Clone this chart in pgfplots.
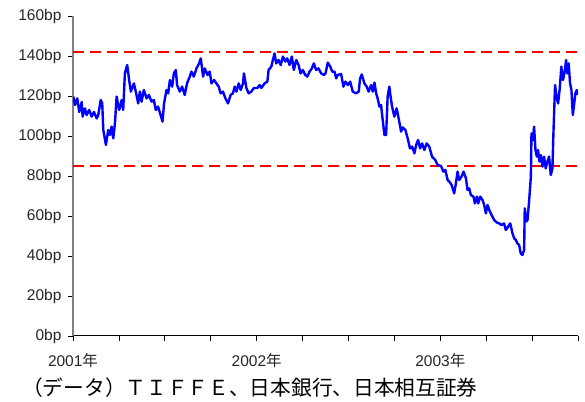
\documentclass[border=0pt]{standalone}
\usepackage{pgfplots}
\pgfplotsset{compat=1.18}
\usepackage{fontspec}
\setmainfont{Liberation Sans}
\newfontfamily\cjk{Noto Sans CJK JP}
\pgfplotstableread{
m v
0.02 119.7
0.13 115.5
0.28 118.8
0.41 112.0
0.57 117.0
0.63 109.7
0.78 113.8
0.89 110.5
1.06 113.0
1.22 109.7
1.37 112.0
1.55 108.8
1.65 110.5
1.81 118.0
1.91 116.3
1.98 103.0
2.15 95.5
2.30 103.0
2.41 100.5
2.52 104.7
2.63 98.8
2.74 106.3
2.85 119.7
3.02 113.0
3.18 118.0
3.28 113.0
3.39 131.3
3.54 135.5
3.67 128.0
3.78 122.2
3.98 126.3
4.15 120.5
4.26 116.3
4.37 122.2
4.48 117.2
4.63 123.0
4.81 118.8
4.96 120.5
5.13 117.2
5.28 118.0
5.41 113.0
5.56 114.7
5.72 110.5
5.85 107.2
5.95 116.3
6.11 123.0
6.22 121.3
6.33 128.0
6.48 124.7
6.59 131.3
6.72 133.0
6.80 125.5
6.98 122.2
7.13 124.7
7.30 120.5
7.45 126.3
7.63 129.7
7.74 132.2
7.89 129.7
8.07 133.8
8.24 136.3
8.35 138.8
8.50 129.7
8.61 133.8
8.79 130.5
8.93 132.2
9.05 126.3
9.22 128.0
9.37 126.3
9.52 124.7
9.65 121.3
9.80 122.2
9.96 118.8
10.13 116.3
10.30 120.5
10.45 121.3
10.57 124.7
10.68 122.2
10.83 126.3
10.96 123.0
11.11 126.3
11.17 131.3
11.33 124.0
11.48 121.3
11.65 122.2
11.82 124.0
12.05 124.0
12.20 125.5
12.31 124.0
12.52 126.3
12.70 127.2
12.78 133.0
12.96 134.7
13.06 138.0
13.17 141.3
13.28 136.3
13.43 138.0
13.57 135.5
13.72 139.7
13.87 137.2
14.00 138.8
14.15 135.5
14.30 139.7
14.43 133.0
14.59 138.0
14.74 135.5
14.87 131.3
15.02 133.0
15.18 130.5
15.31 129.7
15.46 132.2
15.61 133.8
15.74 136.3
15.89 133.0
16.04 133.8
16.22 131.3
16.39 130.5
16.50 131.3
16.65 136.7
16.81 134.7
16.94 132.2
17.09 132.2
17.20 128.8
17.30 130.5
17.52 131.0
17.67 124.7
17.80 127.2
17.96 125.5
18.11 127.2
18.28 122.2
18.50 121.3
18.67 122.2
18.76 128.8
18.87 130.8
19.04 126.3
19.19 124.7
19.32 122.2
19.48 125.5
19.59 122.2
19.70 126.7
19.81 121.3
19.91 118.8
20.02 114.7
20.13 115.5
20.20 110.5
20.35 100.5
20.46 100.5
20.56 119.7
20.67 124.7
20.74 120.5
20.85 114.7
21.00 109.7
21.15 113.8
21.28 108.8
21.44 102.2
21.54 104.3
21.72 103.0
21.87 98.8
22.02 93.8
22.16 94.7
22.31 91.3
22.42 95.5
22.55 98.0
22.68 93.8
22.81 96.3
22.96 93.0
23.11 96.3
23.28 94.7
23.46 89.7
23.67 88.0
23.83 85.5
24.05 85.0
24.20 82.2
24.33 83.0
24.48 78.0
24.59 77.2
24.74 75.5
24.91 71.3
25.02 76.3
25.13 82.2
25.24 78.0
25.39 79.7
25.52 82.2
25.68 78.8
25.78 73.0
25.89 73.8
26.00 70.5
26.17 69.7
26.26 66.3
26.39 69.7
26.48 66.3
26.61 69.7
26.76 68.0
26.87 65.5
26.98 61.3
27.09 65.5
27.20 63.0
27.35 60.5
27.52 58.0
27.70 56.7
27.85 56.3
28.00 55.5
28.17 56.3
28.28 53.0
28.44 54.7
28.57 56.3
28.72 51.3
28.83 48.8
28.94 48.0
29.04 46.3
29.15 45.5
29.26 41.3
29.37 40.5
29.48 43.0
29.52 63.8
29.61 57.2
29.70 58.0
29.81 68.0
29.92 79.7
29.96 101.3
30.05 98.0
30.13 104.7
30.22 93.0
30.31 89.7
30.39 93.0
30.48 87.2
30.57 90.5
30.68 84.7
30.78 89.7
30.89 83.8
31.00 87.2
31.11 89.7
31.22 80.5
31.33 83.8
31.39 100.5
31.50 125.5
31.61 118.8
31.70 116.3
31.81 124.0
31.91 134.7
32.02 128.0
32.13 132.2
32.22 138.0
32.30 131.3
32.39 136.3
32.48 126.3
32.57 123.0
32.66 110.5
32.74 115.5
32.83 121.3
32.92 123.0
32.94 120.5
}\spread
\begin{document}
\begin{tikzpicture}[x=1pt,y=1pt]
\begin{axis}[
  at={(73pt,65pt)}, anchor=south west,
  scale only axis, width=505pt, height=320pt,
  xmin=0, xmax=33, ymin=0, ymax=160,
  axis x line*=bottom, axis y line*=left,
  x axis line style={black, line width=1pt, -},
  y axis line style={gray, line width=1.3pt, -},
  xtick={0,3,...,33},
  xticklabels={2001{\cjk 年},,,,2002{\cjk 年},,,,2003{\cjk 年},,,},
  ytick={0,20,...,160},
  yticklabels={0bp,20bp,40bp,60bp,80bp,100bp,120bp,140bp,160bp},
  tick align=outside, major tick length=5pt,
  tick style={black, line width=0.8pt},
  ticklabel style={font=\fontsize{15.5}{18}\selectfont, text=black!85},
  xticklabel style={yshift=-9pt},
  yticklabel style={xshift=-3pt},
]
\addplot[red, line width=2pt, dash pattern=on 11pt off 6pt] coordinates {(0,142) (33,142)};
\addplot[red, line width=2pt, dash pattern=on 11pt off 6pt] coordinates {(0,85) (33,85)};
\addplot[blue, line width=2.4pt, line join=round] table[x=m, y=v] {\spread};
\end{axis}
\node[anchor=west, inner sep=0, font=\cjk\fontsize{20.7}{24}\selectfont] at (22pt,13pt) {（データ）ＴＩＦＦＥ、日本銀行、日本相互証券};
\pgfresetboundingbox
\path[use as bounding box] (0,0) rectangle (585pt,401pt);
\end{tikzpicture}
\end{document}
